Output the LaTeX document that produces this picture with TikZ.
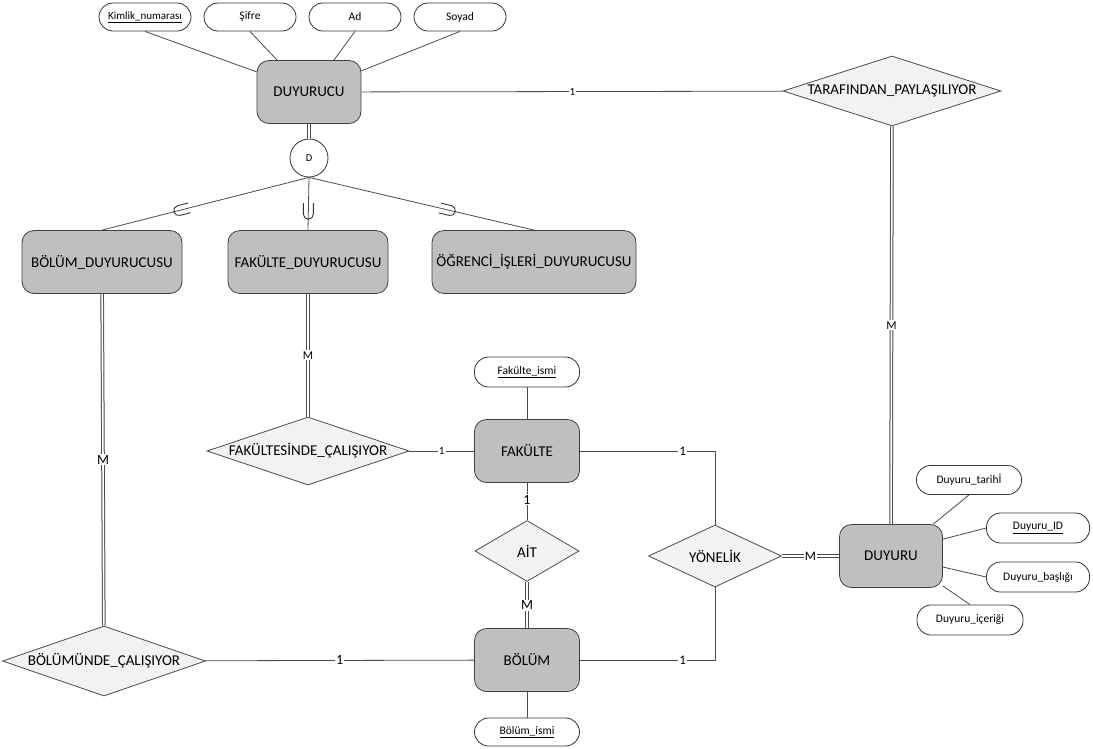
\documentclass[tikz,border=0pt]{standalone}
\usepackage{fontspec}
\setmainfont{Carlito}
\usetikzlibrary{shapes.geometric}

\begin{document}
\begin{tikzpicture}[x=1pt, y=-1pt,
		entity/.style={rectangle, rounded corners=12pt, draw=black!75, line width=0.8pt, fill=black!25, minimum height=63pt, font=\fontsize{15}{17}\selectfont},
		attr/.style={rectangle, rounded corners=14pt, draw=black!80, line width=0.8pt, fill=white, minimum width=92pt, minimum height=28pt, font=\fontsize{11.5}{13}\selectfont},
		rel/.style n args={3}{diamond, draw=black!70, line width=0.8pt, fill=black!5, inner sep=0pt, minimum width=#1, minimum height=#2, label={[font=\fontsize{15}{17}\selectfont]center:#3}},
		line/.style={draw=black!70, line width=0.8pt},
		dbl/.style={draw=black!70, line width=1pt, double=white, double distance=1.6pt},
		card/.style={fill=white, inner sep=1pt, font=\fontsize{14}{16}\selectfont},
		smallcard/.style={fill=white, inner sep=1pt, font=\fontsize{11}{13}\selectfont},
		subsetmark/.pic={\draw[black!80, line width=0.9pt] (-5,-9) -- (-5,2) arc[start angle=180, end angle=360, radius=5pt] -- (5,-9);}
	]
		\fill[white] (0,0) rectangle (1093,748);
		\useasboundingbox (0,0) rectangle (1093,748);

		% entities
		\draw (309,92) node [entity, minimum width=104pt] (duyurucu) {DUYURUCU};
		\draw (102,262) node [entity, minimum width=160pt] (bolumduy) {BÖLÜM\_DUYURUCUSU};
		\draw (308,262) node [entity, minimum width=160pt] (fakduy) {FAKÜLTE\_DUYURUCUSU};
		\draw (534,262) node [entity, minimum width=204pt] (ogrduy) {ÖĞRENCİ\_İŞLERİ\_DUYURUCUSU};
		\draw (527,451) node [entity, minimum width=105pt] (fakulte) {FAKÜLTE};
		\draw (527,660) node [entity, minimum width=105pt] (bolum) {BÖLÜM};
		\draw (891,556) node [entity, minimum width=103pt] (duyuru) {DUYURU};

		% relationships
		\draw (892,91) node [rel={218pt}{70pt}{TARAFINDAN\_PAYLAŞILIYOR}] (paylas) {};
		\draw (308,451) node [rel={202pt}{68pt}{FAKÜLTESİNDE\_ÇALIŞIYOR}] (fakcal) {};
		\draw (527,551) node [rel={104pt}{61pt}{AİT}] (ait) {};
		\draw (104,661) node [rel={203pt}{70pt}{BÖLÜMÜNDE\_ÇALIŞIYOR}] (bolcal) {};
		\draw (715,556) node [rel={133pt}{62pt}{YÖNELİK}] (yonelik) {};

		% specialization
		\draw (309,158) node [circle, draw=black!80, line width=0.8pt, fill=white, minimum size=38pt, inner sep=0pt, font=\fontsize{10.5}{12}\selectfont] (disj) {D};

		% attributes
		\draw (145,17) node [attr, font=\fontsize{11}{13}\selectfont] (kimlik) {\underline{Kimlik\_numarası}};
		\draw (250,17) node [attr] (sifre) {Şifre};
		\draw (355,17) node [attr] (ad) {Ad};
		\draw (460,17) node [attr] (soyad) {Soyad};
		\draw (527,372) node [attr, minimum width=105pt, minimum height=30pt] (fakisim) {\underline{Fakülte\_ismi}};
		\draw (527,732) node [attr, minimum width=105pt] (bolisim) {\underline{Bölüm\_ismi}};
		\draw (969,480) node [attr, minimum width=105pt, minimum height=29pt] (tarih) {Duyuru\_tarihİ};
		\draw (1038,528) node [attr, minimum width=103pt, minimum height=30pt] (duyid) {\underline{Duyuru\_ID}};
		\draw (1038,577) node [attr, minimum width=103pt, minimum height=30pt] (baslik) {Duyuru\_başlığı};
		\draw (970,620) node [attr, minimum width=106pt, minimum height=30pt] (icerik) {Duyuru\_içeriği};

		\draw
			(kimlik.south) edge [line] (duyurucu.159)
			(sifre.south) edge [line] (duyurucu.135)
			(ad.south) edge [line] (duyurucu.52)
			(soyad.south) edge [line] (duyurucu.22)
			(fakisim) edge [line] (fakulte)
			(bolisim) edge [line] (bolum)
			(tarih.south) edge [line] (duyuru.37)
			(duyid.west) edge [line] (duyuru.18)
			(baslik.west) edge [line] (duyuru.-12)
			(icerik.north) edge [line] (duyuru.-30)
		;

		\draw
			(duyurucu) edge [dbl] (disj)
			(duyurucu) edge [line] node [smallcard] {1} (paylas)
			(paylas) edge [dbl] node [smallcard, font=\fontsize{12}{14}\selectfont] {M} (duyuru)
			(fakduy) edge [dbl] node [smallcard, font=\fontsize{12}{14}\selectfont] {M} (fakcal)
			(bolumduy) edge [dbl] node [card] {M} (bolcal)
			(fakcal) edge [line] node [smallcard] {1} (fakulte)
			(fakulte) edge [line] node [card, pos=0.45] {1} (ait)
			(ait) edge [dbl] node [card] {M} (bolum)
			(bolcal) edge [line] node [card] {1} (bolum)
			(yonelik) edge [dbl] node [card, font=\fontsize{13}{15}\selectfont] {M} (duyuru)
		;

		\draw [line] (fakulte.east) -| node [card, pos=0.38, font=\fontsize{13}{15}\selectfont] {1} (yonelik.north);
		\draw [line] (bolum.east) -| node [card, pos=0.38, font=\fontsize{13}{15}\selectfont] {1} (yonelik.south);

		% subclass links
		\draw [line] (disj.south) -- pic [pos=0.62, rotate=-75.6] {subsetmark} (bolumduy.north);
		\draw [line] (disj.south) -- pic [pos=0.66] {subsetmark} (fakduy.north);
		\draw [line] (disj.south) -- pic [pos=0.62, rotate=76.7] {subsetmark} (ogrduy.north);
	\end{tikzpicture}
\end{document}
